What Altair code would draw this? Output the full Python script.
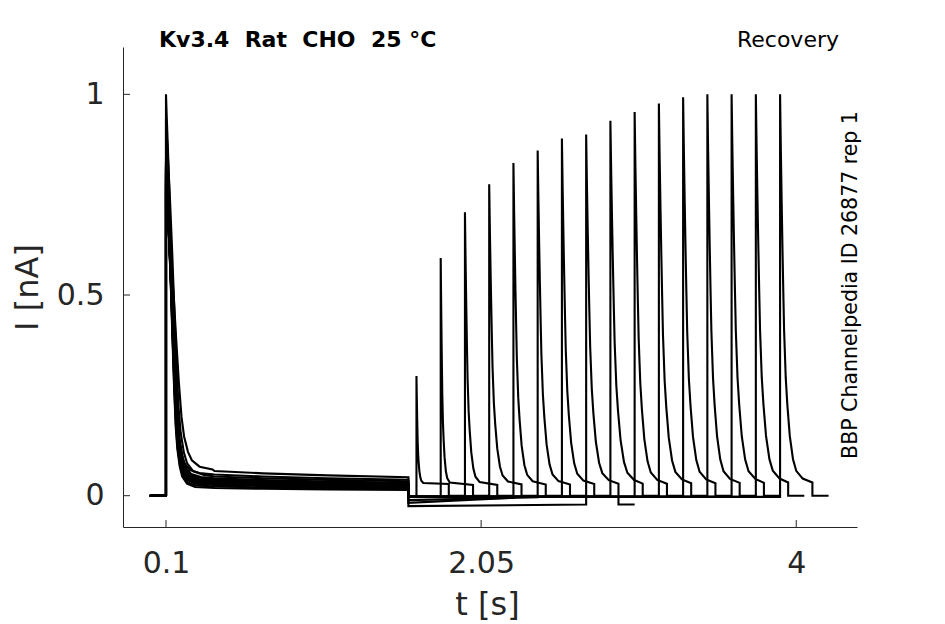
import altair as alt
import pandas as pd

# ---------------- data ----------------
# protocol timing (s)
T_PULSE1 = 0.1
T_PULSE1_END = 1.6
TEST_T = [1.65, 1.80, 1.95, 2.10, 2.25, 2.40, 2.55, 2.70,
          2.85, 3.00, 3.15, 3.30, 3.45, 3.60, 3.75, 3.90]
TEST_DUR = 0.2
TAIL_DUR = 0.1

# first (conditioning) pulse: peak, decay stretch, plateau level per trace
P1 = [0.83, 0.84, 0.80, 0.82, 1.00, 0.78, 0.81, 0.94,
      0.79, 0.83, 0.77, 0.82, 0.80, 0.76, 0.81, 0.79]
S1 = [1.00, 1.05, 1.10, 1.15, 1.00, 1.20, 1.08, 1.30,
      1.12, 1.02, 1.25, 1.18, 1.06, 1.60, 1.10, 1.15]
A1 = [0.020, 0.030, 0.035, 0.040, 0.028, 0.045, 0.032, 0.050,
      0.038, 0.024, 0.042, 0.036, 0.030, 0.064, 0.033, 0.055]
# fast decay shape of the first pulse (time after onset, fraction of peak)
T1F = [0, 0.004, 0.012, 0.02, 0.03, 0.04, 0.05, 0.06, 0.07, 0.085, 0.1, 0.13, 0.18]
G1F = [1, 0.95, 0.86, 0.76, 0.62, 0.46, 0.31, 0.19, 0.12, 0.065, 0.035, 0.012, 0.002]
# slow plateau shape (time after onset, fraction of plateau level)
T1S = [0.3, 0.6, 1.0, 1.5]
H1S = [0.96, 0.87, 0.79, 0.72]

# level between the two pulses (start, end) and after the test pulse
L_START = [-0.003, -0.003, -0.003, -0.003, -0.018, -0.011, -0.003, -0.026,
           -0.003, -0.003, -0.003, -0.003, -0.003, -0.003, -0.003, -0.003]
L_END = [-0.003, -0.003, -0.003, -0.003, -0.005, -0.004, -0.003, -0.022,
         -0.003, -0.003, -0.003, -0.003, -0.003, -0.003, -0.003, -0.003]
E_END = [0, 0, 0, 0, 0, 0, 0, -0.022, 0, 0, 0, 0, 0, 0, 0, 0]

# test pulse: peak, decay stretch, plateau level
Q = [0.298, 0.592, 0.706, 0.776, 0.829, 0.860, 0.890, 0.900,
     0.934, 0.956, 0.977, 0.993, 1.0, 1.0, 1.0, 1.0]
S2 = [0.30, 0.40, 0.65, 0.83, 0.85, 0.92, 0.95, 1.00,
      1.05, 1.00, 1.02, 1.02, 1.00, 1.05, 1.05, 1.00]
B2 = [0.029, 0.027, 0.027, 0.028, 0.028, 0.028, 0.029, 0.030,
      0.030, 0.030, 0.031, 0.031, 0.032, 0.032, 0.033, 0.033]
T2 = [0, 0.005, 0.01, 0.015, 0.02, 0.025, 0.035, 0.045, 0.06, 0.08, 0.1, 0.14]
G2 = [1, 0.85, 0.72, 0.60, 0.49, 0.39, 0.27, 0.20, 0.12, 0.06, 0.03, 0.01]

X_TICKS = [0.1, 2.05, 4]
Y_TICKS = [0, 0.5, 1]

TITLE_LEFT = "Kv3.4\u00a0\u00a0Rat\u00a0\u00a0CHO\u00a0\u00a025 °C"
TITLE_RIGHT = "Recovery"
SIDE_TEXT = "BBP Channelpedia ID 26877 rep 1"

# ---------------- build the trace table ----------------
rows = []
for k in range(len(TEST_T)):
    pts = [(0.0, 0.0), (T_PULSE1, 0.0)]
    for dt, g in zip(T1F, G1F):
        pts.append((T_PULSE1 + dt * S1[k], (P1[k] - A1[k]) * g + A1[k]))
    for dt, h in zip(T1S, H1S):
        pts.append((T_PULSE1 + dt, A1[k] * h))
    pts.append((T_PULSE1_END, L_START[k]))
    pts.append((TEST_T[k], L_END[k]))
    for dt, g in zip(T2, G2):
        pts.append((TEST_T[k] + dt * S2[k], B2[k] + (Q[k] - B2[k]) * g))
    pts.append((TEST_T[k] + TEST_DUR, B2[k]))
    pts.append((TEST_T[k] + TEST_DUR, E_END[k]))
    pts.append((TEST_T[k] + TEST_DUR + TAIL_DUR, E_END[k]))
    for i, (t, v) in enumerate(pts):
        rows.append({"trace": k, "i": i, "t": t, "v": v})
df = pd.DataFrame(rows)

W, H = 734, 480
xscale = alt.Scale(domain=[-0.166, 4.376], nice=False, zero=False)
yscale = alt.Scale(domain=[-0.078, 1.118], nice=False, zero=False)
INK = "#262626"

lines = alt.Chart(df).mark_line(color="black", strokeWidth=2.1).encode(
    x=alt.X("t:Q", scale=xscale,
            axis=alt.Axis(values=X_TICKS, labelExpr="format(datum.value, '.3~g')",
                          title="t [s]",
                          labelPadding=21, titleX=364, titleY=87,
                          titleBaseline="alphabetic", titleAlign="center")),
    y=alt.Y("v:Q", scale=yscale,
            axis=alt.Axis(values=Y_TICKS, labelExpr="format(datum.value, '.3~g')",
                          title="I [nA]",
                          labelPadding=19, titleAngle=270, titleX=-86, titleY=240,
                          titleBaseline="alphabetic", titleAlign="center")),
    detail="trace:N",
    order="i:Q",
)

xt = alt.Chart(pd.DataFrame({"t": X_TICKS})).mark_rule(color=INK, strokeWidth=1).encode(
    x=alt.X("t:Q", scale=xscale), y=alt.value(H), y2=alt.value(H - 7))
yt = alt.Chart(pd.DataFrame({"v": Y_TICKS})).mark_rule(color=INK, strokeWidth=1).encode(
    y=alt.Y("v:Q", scale=yscale), x=alt.value(0), x2=alt.value(7))

t_left = alt.Chart(pd.DataFrame({"s": [TITLE_LEFT]})).mark_text(
    font="DejaVu Sans", fontSize=22, fontWeight="bold", color="black",
    align="left", baseline="alphabetic").encode(
    text="s:N", x=alt.value(36), y=alt.value(0))
t_right = alt.Chart(pd.DataFrame({"s": [TITLE_RIGHT]})).mark_text(
    font="DejaVu Sans", fontSize=22, color="black",
    align="right", baseline="alphabetic").encode(
    text="s:N", x=alt.value(716), y=alt.value(0))
t_side = alt.Chart(pd.DataFrame({"s": [SIDE_TEXT]})).mark_text(
    font="DejaVu Sans", fontSize=20.5, color="black", angle=270,
    align="center", baseline="alphabetic").encode(
    text="s:N", x=alt.value(734), y=alt.value(238))

chart = alt.layer(lines, xt, yt, t_left, t_right, t_side).properties(
    width=W, height=H,
    padding={"left": 115, "top": 39, "right": 80, "bottom": 120},
    autosize=alt.AutoSizeParams(type="none"),
).configure_view(stroke=None).configure_axis(
    grid=False, ticks=False, tickSize=0,
    domainColor=INK, domainWidth=1,
    labelColor=INK, labelFont="DejaVu Sans", labelFontSize=30,
    titleColor=INK, titleFont="DejaVu Sans", titleFontSize=32, titleFontWeight="normal",
)

chart.save("out.html", embed_options={"renderer": "svg", "actions": False})
